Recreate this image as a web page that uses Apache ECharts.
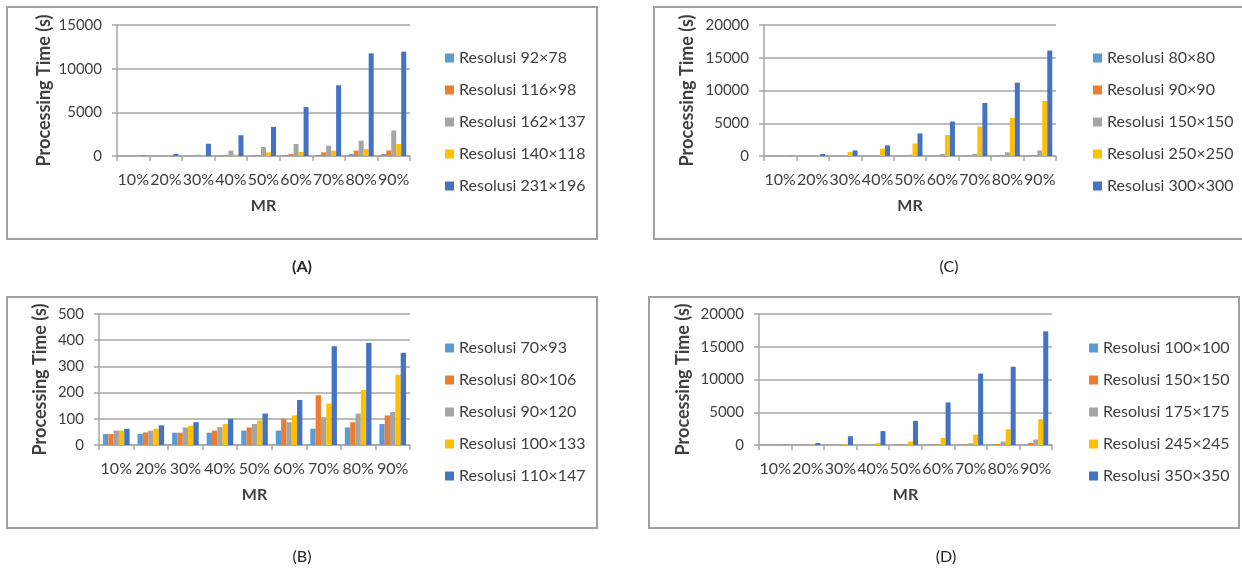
<!DOCTYPE html>
<html>
<head>
<meta charset="utf-8">
<script src="https://cdn.jsdelivr.net/npm/echarts@6/dist/echarts.min.js"></script>
<style>
html,body{margin:0;padding:0;background:#fff}
#main{width:1242px;height:572px}
</style>
</head>
<body>
<div id="main"></div>
<script>
// categories (missing rate)
var mr = ['10%', '20%', '30%', '40%', '50%', '60%', '70%', '80%', '90%'];

// (A) processing time in seconds
var namesA = ['Resolusi 92×78', 'Resolusi 116×98', 'Resolusi 162×137', 'Resolusi 140×118', 'Resolusi 231×196'];
var timeA1 = [5, 10, 20, 40, 60, 90, 120, 210, 220];
var timeA2 = [10, 20, 40, 70, 100, 230, 420, 620, 640];
var timeA3 = [30, 60, 150, 620, 1040, 1380, 1190, 1760, 2920];
var timeA4 = [15, 30, 70, 150, 420, 460, 620, 800, 1380];
var timeA5 = [60, 250, 1400, 2380, 3340, 5600, 8100, 11750, 11950];

// (B)
var namesB = ['Resolusi 70×93', 'Resolusi 80×106', 'Resolusi 90×120', 'Resolusi 100×133', 'Resolusi 110×147'];
var timeB1 = [42, 42, 47, 47, 55, 55, 62, 67, 80];
var timeB2 = [42, 48, 47, 55, 67, 100, 190, 87, 113];
var timeB3 = [55, 55, 67, 68, 80, 87, 106, 120, 126];
var timeB4 = [55, 62, 74, 80, 94, 113, 158, 210, 268];
var timeB5 = [62, 75, 87, 100, 120, 172, 377, 390, 352];

// (C)
var namesC = ['Resolusi 80×80', 'Resolusi 90×90', 'Resolusi 150×150', 'Resolusi 250×250', 'Resolusi 300×300'];
var timeC1 = [1, 3, 6, 10, 15, 25, 35, 45, 60];
var timeC2 = [2, 5, 10, 20, 30, 50, 70, 90, 120];
var timeC3 = [5, 20, 60, 120, 200, 300, 330, 560, 850];
var timeC4 = [10, 60, 600, 1140, 1900, 3200, 4500, 5800, 8400];
var timeC5 = [50, 300, 850, 1630, 3450, 5270, 8100, 11200, 16100];

// (D)
var namesD = ['Resolusi 100×100', 'Resolusi 150×150', 'Resolusi 175×175', 'Resolusi 245×245', 'Resolusi 350×350'];
var timeD1 = [1, 3, 5, 10, 15, 25, 40, 60, 100];
var timeD2 = [2, 5, 10, 20, 40, 60, 100, 150, 310];
var timeD3 = [5, 15, 30, 60, 100, 150, 260, 520, 830];
var timeD4 = [10, 40, 100, 310, 520, 1080, 1600, 2400, 3950];
var timeD5 = [50, 310, 1340, 2120, 3700, 6500, 10900, 11950, 17350];

// y axis ranges
var yMaxA = 15000, yStepA = 5000;
var yMaxB = 500, yStepB = 100;
var yMaxC = 20000, yStepC = 5000;
var yMaxD = 20000, yStepD = 5000;

var colors = ['#5B9BD5', '#ED7D31', '#A5A5A5', '#FFC000', '#4472C4'];
var txt = '#404040';
var font = 'Lato';

var panels = [
  {key: 'A', names: namesA, data: [timeA1, timeA2, timeA3, timeA4, timeA5], max: yMaxA, step: yStepA,
   grid: {left: 117, top: 25, width: 293, height: 131}, yGap: 64, legend: {left: 440, top: 45},
   box: [7, 7, 590, 232], cap: [302, 267], bold: true},
  {key: 'B', names: namesB, data: [timeB1, timeB2, timeB3, timeB4, timeB5], max: yMaxB, step: yStepB,
   grid: {left: 99, top: 314, width: 311, height: 131}, yGap: 50, legend: {left: 440, top: 335},
   box: [7, 297, 590, 231], cap: [302, 557], bold: false},
  {key: 'C', names: namesC, data: [timeC1, timeC2, timeC3, timeC4, timeC5], max: yMaxC, step: yStepC,
   grid: {left: 764, top: 25, width: 292, height: 131}, yGap: 68, legend: {left: 1088, top: 45},
   box: [654, 7, 600, 232], cap: [949, 267], bold: false},
  {key: 'D', names: namesD, data: [timeD1, timeD2, timeD3, timeD4, timeD5], max: yMaxD, step: yStepD,
   grid: {left: 759, top: 314, width: 293, height: 131}, yGap: 67, legend: {left: 1084, top: 335},
   box: [649, 297, 590, 231], cap: [946, 557], bold: false}
];

var grids = [], xAxes = [], yAxes = [], legends = [], series = [], graphics = [];

panels.forEach(function (p, i) {
  grids.push(p.grid);
  xAxes.push({
    type: 'category', gridIndex: i, data: mr,
    name: 'MR', nameLocation: 'middle', nameGap: 42,
    nameTextStyle: {fontFamily: font, fontSize: 16, fontWeight: 'bold', color: txt},
    axisLine: {lineStyle: {color: '#a6a6a6', width: 1.5}},
    axisTick: {show: true, length: 5, lineStyle: {color: '#a6a6a6', width: 1.5}},
    axisLabel: {fontFamily: font, fontSize: 16, color: txt, margin: 16, interval: 0}
  });
  yAxes.push({
    type: 'value', gridIndex: i, min: 0, max: p.max, interval: p.step,
    name: 'Processing Time (s)', nameLocation: 'middle', nameRotate: 90, nameGap: p.yGap,
    nameTextStyle: {fontFamily: font, fontSize: 18, fontWeight: 'bold', color: txt},
    axisLine: {show: true, lineStyle: {color: '#a6a6a6', width: 1.5}},
    axisTick: {show: true, length: 5, lineStyle: {color: '#a6a6a6', width: 1.5}},
    axisLabel: {fontFamily: font, fontSize: 15, color: txt, margin: 15,
                formatter: function (v) { return String(v); }},
    splitLine: {lineStyle: {color: '#a6a6a6', width: 1.5}}
  });
  legends.push({
    orient: 'vertical', left: p.legend.left, top: p.legend.top,
    itemWidth: 9, itemHeight: 9, itemGap: 16, icon: 'rect',
    data: p.names.map(function (n) { return p.key + '|' + n; }),
    formatter: function (name) { return name.split('|')[1]; },
    textStyle: {fontFamily: font, fontSize: 16, color: txt, lineHeight: 16}
  });
  p.names.forEach(function (n, k) {
    series.push({
      type: 'bar', name: p.key + '|' + n, xAxisIndex: i, yAxisIndex: i,
      data: p.data[k], barGap: '0%', barCategoryGap: '23%',
      itemStyle: {color: colors[k]}
    });
  });
  graphics.push({
    type: 'rect', shape: {x: p.box[0], y: p.box[1], width: p.box[2], height: p.box[3]},
    style: {fill: 'none', stroke: '#a0a0a0', lineWidth: 2}, silent: true
  });
  graphics.push({
    type: 'text', x: p.cap[0], y: p.cap[1],
    style: {text: '(' + p.key + ')', fontFamily: font, fontSize: 16, fontWeight: p.bold ? 'bold' : 'normal',
            fill: '#222', align: 'center', verticalAlign: 'middle'}
  });
});

var myChart = echarts.init(document.getElementById('main'));
myChart.setOption({
  animation: false,
  backgroundColor: '#fff',
  grid: grids,
  xAxis: xAxes,
  yAxis: yAxes,
  legend: legends,
  series: series,
  graphic: graphics
});
</script>
</body>
</html>
